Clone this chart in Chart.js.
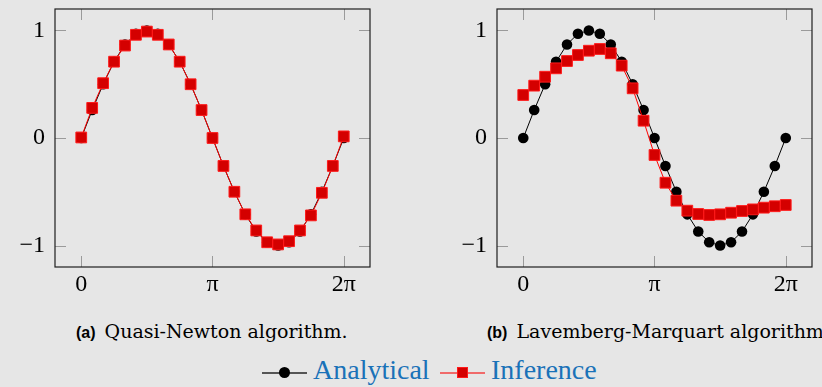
<!DOCTYPE html>
<html>
<head>
<meta charset="utf-8">
<script src="https://cdn.jsdelivr.net/npm/chart.js@4.4.1/dist/chart.umd.min.js"></script>
<style>
  html, body { margin: 0; padding: 0; background: #e6e6e6; width: 822px; height: 387px; overflow: hidden; }
  .box { position: absolute; }
  .cap { position: absolute; top: 322px; font: 19px 'DejaVu Serif', serif; line-height: 19px; color: #000; white-space: nowrap; }
  .cap b { font: bold 16px 'Liberation Sans', sans-serif; margin-right: 3px; }
  #legend { position: absolute; left: 262px; top: 356px; height: 28px; font: 28px 'Liberation Serif', serif; line-height: 28px; color: #1a72b8; white-space: nowrap; }
  .lg { position: absolute; top: 0; }
  .ln { position: absolute; height: 2px; top: 16px; width: 45px; }
  .mk { position: absolute; box-sizing: border-box; }
</style>
</head>
<body>
<div class="box" style="left:0;top:0;width:400px;height:300px"><canvas id="chartA"></canvas></div>
<div class="box" style="left:420px;top:0;width:402px;height:300px"><canvas id="chartB"></canvas></div>
<div class="cap" style="left:76px"><b>(a)</b> Quasi-Newton algorithm.</div>
<div class="cap" style="left:487px"><b>(b)</b> Lavemberg-Marquart algorithm.</div>
<div id="legend">
  <div class="ln" style="left:0;background:#555"></div>
  <div class="mk" style="left:17px;top:11px;width:11px;height:11px;border-radius:50%;background:#000"></div>
  <span class="lg" style="left:51px">Analytical</span>
  <div class="ln" style="left:178px;background:#f06a6a"></div>
  <div class="mk" style="left:195px;top:11px;width:11px;height:11px;background:#d40000;border:1px solid #ff1a1a"></div>
  <span class="lg" style="left:229px">Inference</span>
</div>
<script>
  /* ── Data ── */
  const X = [0, 0.2618, 0.5236, 0.7854, 1.0472, 1.309, 1.5708, 1.8326, 2.0944, 2.3562, 2.618, 2.8798,
             3.1416, 3.4034, 3.6652, 3.927, 4.1888, 4.4506, 4.7124, 4.9742, 5.236, 5.4978, 5.7596, 6.0214, 6.2832];
  const ANALYTICAL = [0, 0.26, 0.5, 0.71, 0.87, 0.97, 1, 0.97, 0.87, 0.71, 0.5, 0.26,
                      0, -0.26, -0.5, -0.71, -0.87, -0.97, -1, -0.97, -0.87, -0.71, -0.5, -0.26, 0];
  const INFER_QN = [0.005, 0.28, 0.51, 0.71, 0.86, 0.96, 0.99, 0.96, 0.87, 0.71, 0.5, 0.26,
                    0, -0.26, -0.5, -0.71, -0.86, -0.97, -0.99, -0.96, -0.86, -0.72, -0.51, -0.26, 0.015];
  const INFER_LM = [0.40, 0.487, 0.57, 0.648, 0.716, 0.772, 0.812, 0.828, 0.788, 0.673, 0.462, 0.161,
                    -0.158, -0.416, -0.583, -0.676, -0.707, -0.716, -0.71, -0.695, -0.679, -0.664, -0.648, -0.635, -0.623];
  const X_TICKS = [0, Math.PI, 2 * Math.PI];
  const X_TICK_LABELS = ['0', 'π', '2π'];
  const Y_TICKS = [-1, 0, 1];
  const Y_TICK_LABELS = ['−1', '0', '1'];

  const pts = ys => ys.map((y, i) => ({ x: X[i], y }));

  // frame + inside tick marks on all four sides
  const frame = {
    id: 'frame',
    beforeDatasetsDraw(chart) {
      const { ctx, chartArea: a, scales } = chart;
      ctx.save();
      ctx.strokeStyle = '#9a9a9a';
      ctx.lineWidth = 1;
      ctx.beginPath();
      X_TICKS.forEach(v => {
        const px = Math.round(scales.x.getPixelForValue(v)) + 0.5;
        ctx.moveTo(px, a.bottom); ctx.lineTo(px, a.bottom - 11);
        ctx.moveTo(px, a.top); ctx.lineTo(px, a.top + 11);
      });
      Y_TICKS.forEach(v => {
        const py = Math.round(scales.y.getPixelForValue(v)) + 0.5;
        ctx.moveTo(a.left, py); ctx.lineTo(a.left + 11, py);
        ctx.moveTo(a.right, py); ctx.lineTo(a.right - 11, py);
      });
      ctx.stroke();
      ctx.strokeStyle = '#1e1e1e';
      ctx.lineWidth = 1.2;
      ctx.strokeRect(a.left, a.top, a.right - a.left, a.bottom - a.top);
      ctx.restore();
    }
  };

  function makeChart(id, infer, yWidth, rightPad) {
    new Chart(document.getElementById(id), {
      type: 'line',
      data: {
        datasets: [
          {
            label: 'Inference',
            data: pts(infer),
            order: 0,
            borderColor: '#ff0000',
            borderWidth: 1,
            pointStyle: 'rect',
            pointRadius: 7.6,
            pointBackgroundColor: '#d40000',
            pointBorderColor: '#ff1a1a',
            pointBorderWidth: 1,
            tension: 0
          },
          {
            label: 'Analytical',
            data: pts(ANALYTICAL),
            order: 1,
            borderColor: '#000',
            borderWidth: 1,
            pointStyle: 'circle',
            pointRadius: 5.3,
            pointBackgroundColor: '#000',
            pointBorderColor: '#000',
            pointBorderWidth: 0,
            tension: 0
          }
        ]
      },
      options: {
        responsive: true,
        maintainAspectRatio: false,
        animation: false,
        layout: { padding: { top: 9, right: rightPad, left: 0, bottom: 0 } },
        plugins: { legend: { display: false }, tooltip: { enabled: false } },
        scales: {
          x: {
            type: 'linear',
            min: -0.2 * Math.PI,
            max: 2.2 * Math.PI,
            grid: { display: false, drawTicks: false },
            border: { display: false },
            afterBuildTicks: s => { s.ticks = X_TICKS.map(v => ({ value: v })); },
            afterFit: s => { s.height = 33; s.paddingLeft = 0; s.paddingRight = 0; },
            ticks: {
              padding: 3,
              color: '#000',
              maxRotation: 0,
              autoSkip: false,
              font: { family: "'Liberation Serif', serif", size: 24 },
              callback: (v, i) => X_TICK_LABELS[i]
            }
          },
          y: {
            min: -1.2,
            max: 1.2,
            grid: { display: false, drawTicks: false },
            border: { display: false },
            afterBuildTicks: s => { s.ticks = Y_TICKS.map(v => ({ value: v })); },
            afterFit: s => { s.width = yWidth; s.paddingTop = 0; s.paddingBottom = 0; },
            ticks: {
              padding: 10,
              color: '#000',
              autoSkip: false,
              font: { family: "'Liberation Serif', serif", size: 24 },
              callback: (v, i) => Y_TICK_LABELS[i]
            }
          }
        }
      },
      plugins: [frame]
    });
  }

  makeChart('chartA', INFER_QN, 55, 30);
  makeChart('chartB', INFER_LM, 77, 10);
</script>
</body>
</html>
